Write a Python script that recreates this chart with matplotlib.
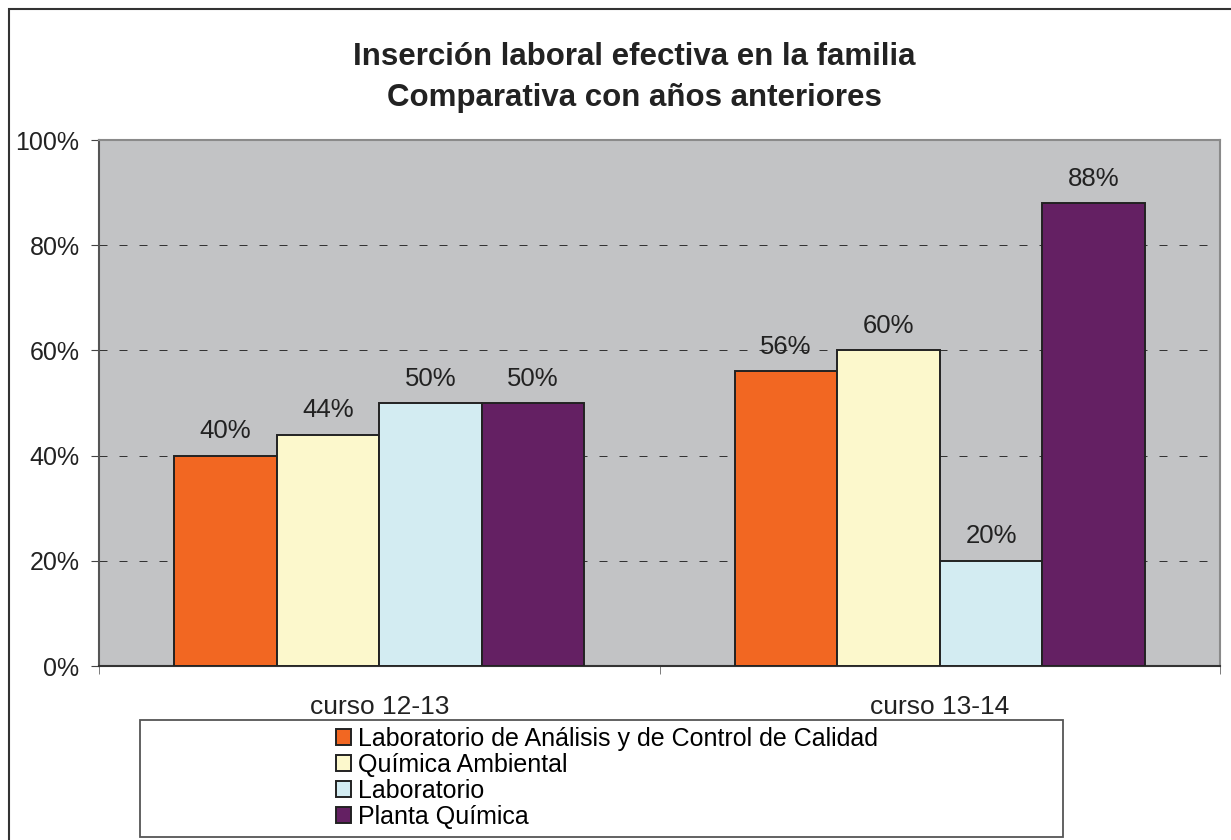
import matplotlib.pyplot as plt
import matplotlib.patches as mpatches
import numpy as np

plt.rcParams['font.family'] = ['Liberation Sans', 'DejaVu Sans']

cursos = ["curso 12-13", "curso 13-14"]
series = ["Laboratorio de Análisis y de Control de Calidad", "Química Ambiental",
          "Laboratorio", "Planta Química"]
valores = {
    "Laboratorio de Análisis y de Control de Calidad": [40, 56],
    "Química Ambiental": [44, 60],
    "Laboratorio": [50, 20],
    "Planta Química": [50, 88],
}
colores = ["#F26722", "#FCF8CC", "#D3ECF2", "#642063"]

fig = plt.figure(figsize=(12.31, 8.4), dpi=100)
ax = fig.add_axes([99 / 1231, 174 / 840, (1220 - 99) / 1231, (666 - 140) / 840])
ax.set_facecolor("#C2C3C5")

x = np.arange(len(cursos))
w = 0.183
for i, s in enumerate(series):
    pos = x + (i - 1.5) * w
    ax.bar(pos, valores[s], width=w, color=colores[i], edgecolor="#222222",
           linewidth=1.4, label=s, zorder=3)
    for xb, v in zip(pos, valores[s]):
        ax.annotate(f"{v}%", (xb, v), xytext=(0, 9), textcoords="offset points",
                    ha="center", va="bottom", fontsize=18.5, color="#222222")

ax.set_xlim(-0.5, 1.5)
ax.set_ylim(0, 100)
ax.set_yticks([0, 20, 40, 60, 80, 100])
ax.set_yticklabels(["0%", "20%", "40%", "60%", "80%", "100%"], fontsize=18, color="#222222")
ax.yaxis.grid(True, color="#333333", linestyle=(0, (8, 12)), linewidth=0.72, zorder=1)
ax.set_xticks(x)
ax.set_xticklabels(cursos, fontsize=19, color="#222222")
ax.set_xticks([-0.5, 0.5, 1.5], minor=True)
ax.tick_params(axis="x", which="major", length=0, pad=21)
ax.tick_params(axis="x", which="minor", length=6, color="#666666", direction="out")
ax.tick_params(axis="y", length=6, color="#444444", direction="out", pad=8)

for side in ["top", "right"]:
    ax.spines[side].set_color("#8A8A8A")
    ax.spines[side].set_linewidth(1.5)
ax.spines["left"].set_color("#555555")
ax.spines["left"].set_linewidth(1.5)
ax.spines["bottom"].set_color("#333333")
ax.spines["bottom"].set_linewidth(1.5)

fig.text(634 / 1231, 1 - 57 / 840, "Inserción laboral efectiva en la familia", ha="center",
         va="center", fontsize=22.5, fontweight="bold", color="#222222")
fig.text(634 / 1231, 1 - 98 / 840, "Comparativa con años anteriores", ha="center",
         va="center", fontsize=22.5, fontweight="bold", color="#222222")

# marco exterior
fig.patches.append(mpatches.Rectangle((9 / 1231, -0.05), 1.1, 1 - 9 / 840 + 0.05,
                                      transform=fig.transFigure, fill=False,
                                      edgecolor="#333333", linewidth=1.5))
# caja de la leyenda
fig.patches.append(mpatches.Rectangle((140 / 1231, 1 - 837 / 840), (1063 - 140) / 1231,
                                      (837 - 720) / 840, transform=fig.transFigure,
                                      fill=False, edgecolor="#555555", linewidth=1.3))
fig.legend(loc="center", bbox_to_anchor=(607 / 1231, 1 - 778 / 840), frameon=False,
           fontsize=18, handlelength=0.62, handleheight=0.62, handletextpad=0.3,
           labelspacing=0.08, borderaxespad=0, borderpad=0)

fig.savefig("out.png", dpi=100)
